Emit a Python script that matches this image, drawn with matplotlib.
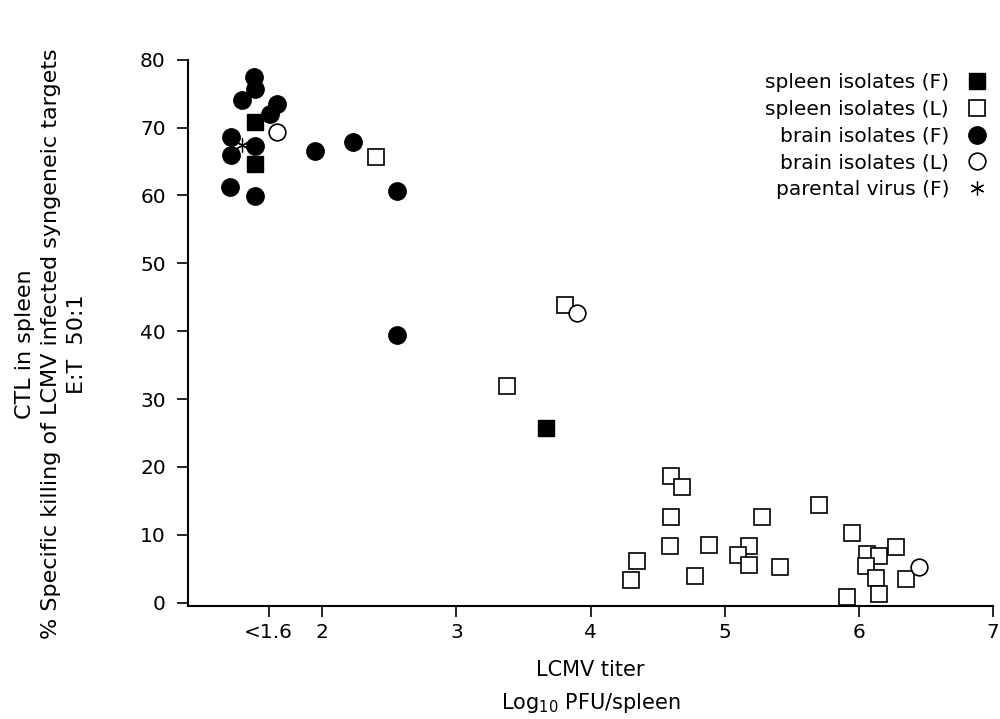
import matplotlib
matplotlib.use('Agg')
from matplotlib import pyplot as plt

# spleen isolates (F)
spleen_f_x = [1.50, 1.50, 3.67]
spleen_f_y = [70.8, 64.7, 25.8]
# spleen isolates (L)
spleen_l_x = [2.40, 3.81, 3.38, 4.60, 4.68, 4.60, 4.59, 4.35, 4.30, 4.88, 4.78,
              5.28, 5.18, 5.10, 5.18, 5.41, 5.70, 5.95, 6.06, 6.15, 6.05, 6.13,
              6.15, 5.91, 6.28, 6.35]
spleen_l_y = [65.6, 43.9, 31.9, 18.6, 17.0, 12.7, 8.4, 6.2, 3.4, 8.5, 3.9,
              12.6, 8.4, 7.1, 5.6, 5.3, 14.4, 10.3, 7.2, 6.9, 5.4, 3.7,
              1.3, 0.9, 8.2, 3.5]
# brain isolates (F)
brain_f_x = [1.49, 1.50, 1.40, 1.66, 1.61, 1.32, 1.50, 1.32, 1.31, 1.50,
             1.95, 2.23, 2.56, 2.56]
brain_f_y = [77.5, 75.7, 74.0, 73.4, 72.0, 68.6, 67.3, 65.9, 61.3, 59.9,
             66.5, 67.8, 60.7, 39.5]
# brain isolates (L)
brain_l_x = [1.66, 3.90, 6.45]
brain_l_y = [69.4, 42.7, 5.3]
# parental virus (F)
parent_x = [1.40]
parent_y = [67.4]

xticks = [1.6, 2, 3, 4, 5, 6, 7]
xticklabels = ['<1.6', '2', '3', '4', '5', '6', '7']
yticks = [0, 10, 20, 30, 40, 50, 60, 70, 80]

fs = 14.5
plt.rcParams['font.family'] = ['DejaVu Sans']
plt.rcParams['font.size'] = fs

fig = plt.figure(figsize=(10, 7.19), dpi=100)
ax = fig.add_axes([0.188, 0.157, 0.805, 0.76])

ax.plot(spleen_f_x, spleen_f_y, ls='none', marker='s', ms=11, mfc='black',
        mec='black', label='spleen isolates (F)')
ax.plot(spleen_l_x, spleen_l_y, ls='none', marker='s', ms=11, mfc='white',
        mec='black', mew=1.2, label='spleen isolates (L)')
ax.plot(brain_f_x, brain_f_y, ls='none', marker='o', ms=12.5, mfc='black',
        mec='black', label='brain isolates (F)')
ax.plot(brain_l_x, brain_l_y, ls='none', marker='o', ms=12, mfc='white',
        mec='black', mew=1.2, label='brain isolates (L)')
ax.plot(parent_x, parent_y, ls='none', marker=(6, 2, 0), ms=10, color='black',
        mew=0.9, label='parental virus (F)')

ax.set_xlim(1, 7)
ax.set_ylim(-0.5, 80)
ax.set_xticks(xticks)
ax.set_xticklabels(xticklabels)
ax.set_yticks(yticks)
ax.spines['top'].set_visible(False)
ax.spines['right'].set_visible(False)
ax.spines['left'].set_linewidth(1.5)
ax.spines['bottom'].set_linewidth(1.5)
ax.tick_params(direction='out', length=8, width=1.2, labelsize=fs)
ax.tick_params(axis='x', pad=4)
ax.tick_params(axis='y', pad=8)

ax.set_xlabel('LCMV titer\nLog$_{10}$ PFU/spleen', fontsize=fs + 0.5,
              linespacing=1.6, labelpad=13)
ax.set_ylabel('CTL in spleen\n% Specific killing of LCMV infected syngeneic targets\nE:T  50:1',
              fontsize=16, linespacing=1.38)
ax.yaxis.set_label_coords(-0.125, 0.48)

leg = ax.legend(loc='upper right', bbox_to_anchor=(1.008, 0.997), markerfirst=False,
                frameon=False, fontsize=fs, handletextpad=0.9,
                labelspacing=0.38, borderaxespad=0.2, handlelength=1.0)

fig.savefig('out.png', dpi=100)
